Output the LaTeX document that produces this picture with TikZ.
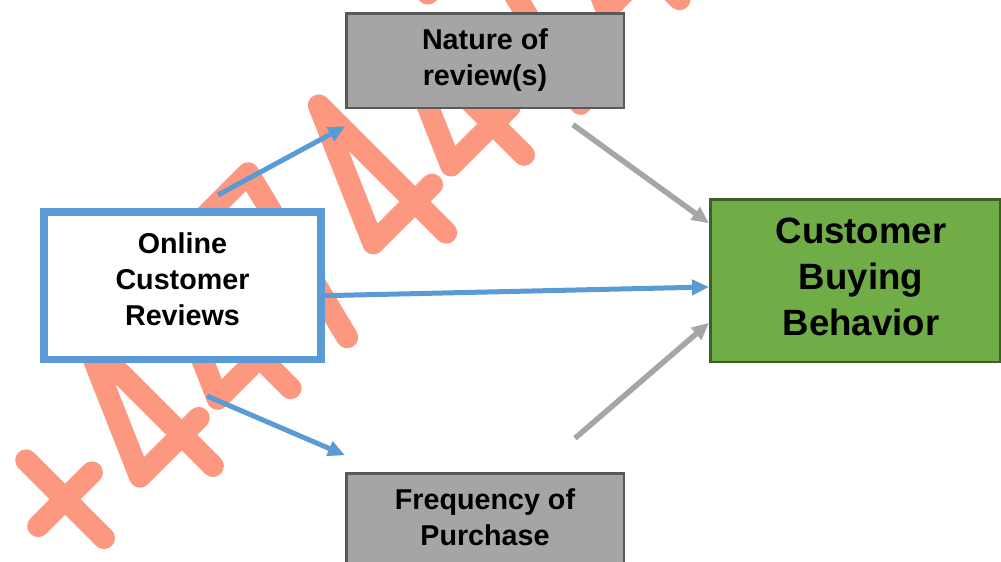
\documentclass[tikz,border=0pt]{standalone}
\usepackage{fontspec}
\setmainfont{Liberation Sans}
\usetikzlibrary{arrows.meta,calc}
\definecolor{wm}{RGB}{252,152,128}
\definecolor{bluec}{RGB}{91,155,213}
\definecolor{grayfill}{RGB}{165,165,165}
\definecolor{grayline}{RGB}{89,89,89}
\definecolor{greenfill}{RGB}{112,173,71}
\definecolor{greenline}{RGB}{62,95,40}
\definecolor{arrowgray}{RGB}{166,166,166}
\tikzset{
  wmline/.style={draw=wm, line width=22pt, line cap=round, line join=round},
  glyphframe/.style={x={(0.7071pt,0.7071pt)}, y={(-0.7071pt,0.7071pt)}},
  greybox/.style={draw=grayline, fill=grayfill, line width=2.5pt, minimum width=277.5pt,
    minimum height=94.5pt, inner sep=0pt, outer sep=0pt,
    font=\bfseries\fontsize{28.7}{35.5}\selectfont},
  bluearrow/.style={draw=bluec, line width=5pt, -{Triangle[length=17pt,width=15pt]}},
  grayarrow/.style={draw=arrowgray, line width=5.5pt, -{Triangle[length=17pt,width=15pt]}}
}
\newcommand\wmfour[2]{\begin{scope}[shift={(#1,#2)}]\begin{scope}[glyphframe]
  \draw[wmline] (88,54) -- (5,54) -- (64,190) -- (64,10);\end{scope}\end{scope}}
\newcommand\wmseven[2]{\begin{scope}[shift={(#1,#2)}]\begin{scope}[glyphframe]
  \draw[wmline] (0,192) -- (76,192) -- (30,6);\end{scope}\end{scope}}
\newcommand\wmplus[2]{\begin{scope}[shift={(#1,#2)}]\begin{scope}[glyphframe]
  \draw[wmline] (46,36) -- (46,146) (8,91) -- (84,91);\end{scope}\end{scope}}
\begin{document}
\begin{tikzpicture}[x=1pt,y=-1pt]
\useasboundingbox (0,0) rectangle (1001,562);
% watermark
\wmplus{96.9}{596.1}
\wmfour{174.7}{518.3}
\wmfour{252.4}{440.5}
\wmseven{330.2}{362.7}
\wmfour{408.0}{285.0}
\wmfour{485.8}{207.2}
\wmseven{563.6}{129.4}
\wmfour{641.3}{51.6}
% boxes
\node[greybox] (nat) at (485,60.5) {\begin{tabular}{@{}c@{}}Nature of\\review(s)\end{tabular}};
\node[greybox] (freq) at (485,520.5) {\begin{tabular}{@{}c@{}}Frequency of\\Purchase\end{tabular}};
\node[draw=bluec, fill=white, line width=7.5pt, minimum width=277pt, minimum height=147.5pt,
  inner sep=0pt, outer sep=0pt, font=\bfseries\fontsize{28.7}{36}\selectfont]
  (online) at (182.5,285.75) {\begin{tabular}{@{}c@{}}Online\\Customer\\Reviews\rule[-16.8pt]{0pt}{16.8pt}\end{tabular}};
\node[draw=greenline, fill=greenfill, line width=2.5pt, minimum width=289.5pt, minimum height=162.5pt,
  inner sep=0pt, outer sep=0pt, font=\bfseries\fontsize{36.6}{46}\selectfont]
  (beh) at (855,280.5) {\begin{tabular}{@{\hspace{12pt}}c@{}}Customer\\Buying\\Behavior\end{tabular}};
% connectors
\draw[bluearrow] ($(online.north)+(35.5,-17)$) -- ($(nat.south west)+(-1,18.5)$);
\draw[bluearrow] ($(online.east)+(0,10)$) -- ($(beh.west)+(-1.25,6.5)$);
\draw[bluearrow] ($(online.south)+(24.5,36.5)$) -- ($(freq.north west)+(-1.25,-18)$);
\draw[grayarrow] ($(nat.south)+(88,17)$) -- ($(beh.north west)+(-1.25,24)$);
\draw[grayarrow] ($(freq.north)+(90,-35)$) -- ($(beh.south west)+(-1.25,-39)$);
\end{tikzpicture}
\end{document}
